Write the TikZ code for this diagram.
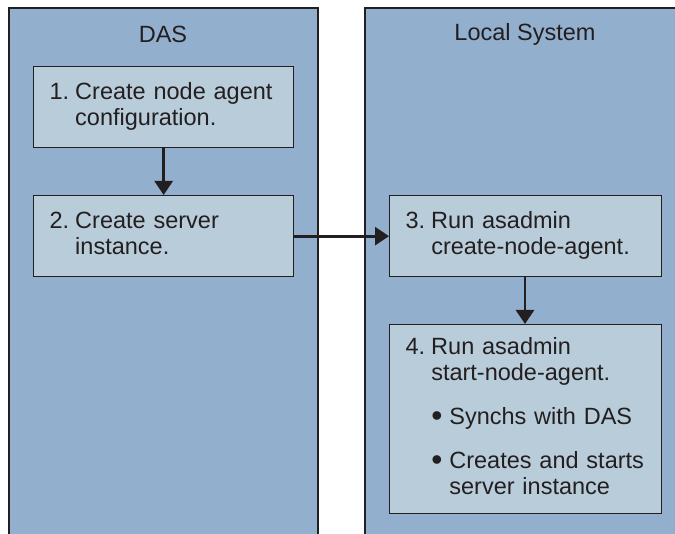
\documentclass[tikz,border=0pt]{standalone}
\usepackage{fontspec}
\setmainfont{Liberation Sans}
\usetikzlibrary{arrows.meta,positioning}
\definecolor{laneblue}{RGB}{146,175,205}
\definecolor{stepblue}{RGB}{184,204,218}
\definecolor{inkgray}{RGB}{35,31,32}
\newcommand{\stepdot}{\raisebox{-2.5pt}{\scalebox{1.35}{\textbullet}}}

\begin{document}
\begin{tikzpicture}
    [x=1pt, y=-1pt,
    % Swim lanes
    lane/.style={fill=laneblue, draw=none},
    laneedge/.style={draw=inkgray, line width=2.6pt},
    lanetitle/.style={text=inkgray, font=\fontsize{23.5}{26}\selectfont},
    % Step boxes
    stepbox/.style={rectangle, draw=inkgray, fill=stepblue, line width=1.3pt, anchor=north west, inner xsep=16pt, align=left, text=inkgray, font=\fontsize{23.5}{26}\selectfont},
    line/.style={draw=inkgray, line width=2.8pt, -{Triangle[width=18pt,length=14pt]}}]
    \useasboundingbox (0,0) rectangle (675,534);
    % DAS lane
    \fill [lane] (9,8) rectangle (318,540);
    \draw [laneedge] (9,540) -- (9,8) -- (318,8) -- (318,540);
    \node [lanetitle] (das) at (163,34) {DAS};
    % Local system lane
    \fill [lane] (365,8) rectangle (680,540);
    \draw [laneedge] (365,540) -- (365,8) -- (680,8);
    \node [lanetitle] (local) at (525,34) {Local System};
    % Steps
    \node [stepbox, minimum width=260pt, minimum height=81pt, text width=228pt] (config) at (33,66)
        {\begin{tabular}{@{}l@{\hspace{6pt}}l@{}}1. & Create node agent\\ & configuration.\end{tabular}};
    \node [stepbox, minimum width=260pt, minimum height=81pt, text width=228pt] (instance) at (33,195)
        {\begin{tabular}{@{}l@{\hspace{6pt}}l@{}}2. & Create server\\ & instance.\end{tabular}};
    \node [stepbox, minimum width=272pt, minimum height=81pt, text width=240pt] (create) at (389,195)
        {\begin{tabular}{@{}l@{\hspace{6pt}}l@{}}3. & Run asadmin\\ & create-node-agent.\end{tabular}};
    \node [stepbox, minimum width=272pt, minimum height=189pt, text width=240pt] (start) at (389,324)
        {\begin{tabular}{@{}l@{\hspace{6pt}}l@{}}4. & Run asadmin\\ & start-node-agent.\\[18pt]
         & \begin{tabular}[t]{@{}l@{\hspace{7pt}}l@{}}\stepdot & Synchs with DAS\\[18pt]
           \stepdot & Creates and starts\\ & server instance\end{tabular}\end{tabular}};
    % Flow
    \draw [line] (config) -- (instance);
    \draw [line] (instance) -- (create);
    \draw [line] (create.south -| 525,0) -- (start.north -| 525,0);
\end{tikzpicture}
\end{document}
